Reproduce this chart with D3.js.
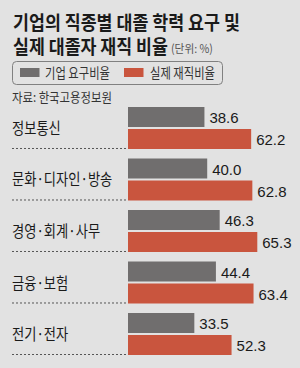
<!DOCTYPE html>
<html><head><meta charset="utf-8">
<script src="https://cdn.jsdelivr.net/npm/d3@7"></script>
<style>html,body{margin:0;padding:0;background:#e2e2e2;}svg{display:block;}</style>
</head><body>
<script>
const categories = ["정보통신","문화·디자인·방송","경영·회계·사무","금융·보험","전기·전자"];
const requiredRate = [38.6, 40.0, 46.3, 44.4, 33.5];
const actualRate = [62.2, 62.8, 65.3, 63.4, 52.3];
const seriesNames = ["기업 요구비율","실제 재직비율"];
const titleLines = ["기업의 직종별 대졸 학력 요구 및","실제 대졸자 재직 비율"];
const unitLabel = "(단위: %)";
const sourceLabel = "자료: 한국고용정보원";

const W = 300, H = 368;
const colors = ["#706e6e", "#c9553e"];
const KR = "'Noto Sans CJK KR', sans-serif";
const NUM = "'Liberation Sans', Arial, sans-serif";

const svg = d3.select("body").append("svg").attr("width", W).attr("height", H);
svg.append("rect").attr("width", W).attr("height", H).attr("fill", "#e2e2e2");

// Korean text compressed horizontally to a target width via transform
function ktext(parent, x, y, str, size, len, opts = {}) {
  const t = parent.append("text").text(str)
    .attr("font-family", KR).attr("font-size", size)
    .attr("font-weight", opts.weight || 400)
    .attr("fill", opts.fill || "#1a1a1a");
  const natural = t.node().getComputedTextLength();
  const w = opts.factor ? natural * opts.factor : len;
  t.attr("transform", `translate(${x},${y}) scale(${w / natural},1)`);
  return t;
}

// Title
ktext(svg, 13, 29.5, titleLines[0], 19.5, 227, {weight: 700});
ktext(svg, 13, 53.5, titleLines[1], 19.5, 155, {weight: 700});
ktext(svg, 171, 52.5, unitLabel, 11.5, 42, {fill: "#555"});

// Legend
svg.append("rect").attr("x", 12.5).attr("y", 61.5).attr("width", 210).attr("height", 23)
  .attr("rx", 4).attr("fill", "none").attr("stroke", "#808080").attr("stroke-width", 1);
const legX = [20, 124], legTX = [45, 150];
seriesNames.forEach((n, i) => {
  svg.append("rect").attr("x", legX[i]).attr("y", 68).attr("width", 19.5).attr("height", 9).attr("fill", colors[i]);
  ktext(svg, legTX[i], 78, n, 14, 65, {fill: "#333"});
});

// Source
ktext(svg, 12, 101.5, sourceLabel, 13, 100, {fill: "#333"});

// Scales
const x = d3.scaleLinear().domain([0, 100]).range([128, 326]);
const y = d3.scaleBand().domain(categories).range([107, 355]).paddingInner(0.1845).paddingOuter(0);
const ySub = d3.scaleBand().domain([0, 1]).range([0, y.bandwidth()]).paddingInner(2 / 22);

const data = categories.map((c, i) => ({cat: c, vals: [requiredRate[i], actualRate[i]]}));

const g = svg.selectAll("g.grp").data(data).join("g").attr("class", "grp")
  .attr("transform", d => `translate(0,${y(d.cat)})`);

// dotted separators
g.append("line").attr("x1", 12).attr("x2", x(0)).attr("y1", y.bandwidth() - 0.5).attr("y2", y.bandwidth() - 0.5)
  .attr("stroke", "#555").attr("stroke-width", 1).attr("stroke-dasharray", "2,2");

// category labels
g.each(function(d) {
  ktext(d3.select(this), 12, y.bandwidth() / 2 + 6, d.cat, 16, null, {factor: 0.83});
});

// bars
g.selectAll("rect.bar").data(d => d.vals.map((v, i) => ({v, i}))).join("rect").attr("class", "bar")
  .attr("x", x(0)).attr("y", d => ySub(d.i)).attr("height", ySub.bandwidth())
  .attr("width", d => x(d.v) - x(0)).attr("fill", d => colors[d.i]);

// value labels
g.selectAll("text.val").data(d => d.vals.map((v, i) => ({v, i}))).join("text").attr("class", "val")
  .attr("x", d => x(d.v) + 5).attr("y", d => ySub(d.i) + ySub.bandwidth() / 2 + 6.5)
  .attr("font-family", NUM).attr("font-size", 15).attr("fill", "#1a1a1a")
  .text(d => d3.format(".1f")(d.v));
</script>
</body></html>
